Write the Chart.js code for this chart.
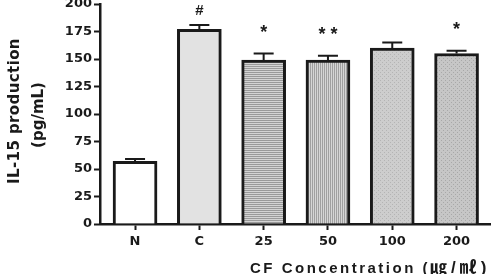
<!DOCTYPE html>
<html>
<head>
<meta charset="utf-8">
<script src="https://cdn.jsdelivr.net/npm/chart.js@4"></script>
<style>
  html, body { margin: 0; padding: 0; background: #fff; }
  #wrap { width: 494px; height: 274px; position: relative; }
</style>
</head>
<body>
<div id="wrap"><canvas id="il15Chart"></canvas></div>
<script>
// ── data ──
var groups = ['N', 'C', '25', '50', '100', '200'];
var il15Values = [57, 177, 149, 149, 160, 155];
var il15Errors = [2, 4, 6, 4, 5, 2.5];
var sigMarks = ['', '#', '*', '**', '', '*'];

var INK = '#1a1a1a';

// ── fill patterns ──
function makePattern(kind) {
    var c = document.createElement('canvas');
    c.width = 4; c.height = 4;
    var g = c.getContext('2d');
    if (kind === 'hlines') {
        g.fillStyle = '#d4d4d4'; g.fillRect(0, 0, 4, 4);
        g.fillStyle = '#9a9a9a'; g.fillRect(0, 0, 4, 1); g.fillRect(0, 2, 4, 1);
    } else if (kind === 'vlines') {
        g.fillStyle = '#d6d6d6'; g.fillRect(0, 0, 4, 4);
        g.fillStyle = '#a0a0a0'; g.fillRect(0, 0, 1, 4); g.fillRect(2, 0, 1, 4);
    } else if (kind === 'dots') {
        g.fillStyle = '#cdcdcd'; g.fillRect(0, 0, 4, 4);
        g.fillStyle = '#b4b4b4'; g.fillRect(0, 0, 1, 1); g.fillRect(2, 2, 1, 1);
    } else {
        g.fillStyle = '#c6c6c6'; g.fillRect(0, 0, 4, 4);
        g.fillStyle = '#a8a8a8'; g.fillRect(1, 0, 1, 1); g.fillRect(3, 2, 1, 1);
    }
    return g.createPattern(c, 'repeat');
}

var fills = ['#ffffff', '#e2e2e2', makePattern('hlines'), makePattern('vlines'), makePattern('dots'), makePattern('dots2')];

function isGroupTick(v) { return Math.abs(v - Math.round(v)) < 1e-6 && groups[Math.round(v)] !== undefined; }

// ── error bars, significance marks, axis titles ──
var extrasPlugin = {
    id: 'extras',
    afterDatasetsDraw: function(chart) {
        var ctx = chart.ctx, xs = chart.scales.x, ys = chart.scales.y;
        ctx.save();
        ctx.strokeStyle = INK;
        ctx.lineWidth = 2;
        il15Values.forEach(function(v, i) {
            var cx = xs.getPixelForValue(i);
            var y0 = ys.getPixelForValue(v);
            var y1 = ys.getPixelForValue(v + il15Errors[i]);
            ctx.beginPath();
            ctx.moveTo(cx, y0); ctx.lineTo(cx, y1);
            ctx.moveTo(cx - 10, y1); ctx.lineTo(cx + 10, y1);
            ctx.stroke();
            var m = sigMarks[i];
            if (!m) return;
            ctx.fillStyle = INK;
            ctx.textAlign = 'center';
            ctx.textBaseline = 'alphabetic';
            if (m === '#') {
                ctx.font = 'bold 15px "Liberation Sans", Arial';
                ctx.letterSpacing = '0px';
                ctx.fillText(m, cx, y1 - 10);
            } else {
                ctx.font = 'bold 18px "Liberation Sans", Arial';
                ctx.letterSpacing = m.length > 1 ? '5px' : '0px';
                var off = m.length > 1 ? 2.5 : 0;
                ctx.fillText(m, cx + off, y1 - 16);
            }
        });
        ctx.restore();
    },
    afterDraw: function(chart) {
        var ctx = chart.ctx;
        var mid = (chart.chartArea.top + chart.chartArea.bottom) / 2;
        ctx.save();
        ctx.fillStyle = INK;
        ctx.font = 'bold 15px "DejaVu Sans"';
        ctx.letterSpacing = '0.4px';
        ctx.textAlign = 'center';
        ctx.textBaseline = 'alphabetic';
        ctx.translate(19, mid - 3);
        ctx.rotate(-Math.PI / 2);
        ctx.fillText('IL-15 production', 0, 0);
        ctx.letterSpacing = '0px';
        ctx.fillText('(pg/mL)', -4, 24);
        ctx.restore();

        ctx.save();
        ctx.fillStyle = INK;
        ctx.textAlign = 'left';
        ctx.textBaseline = 'alphabetic';
        ctx.font = 'bold 15px "Liberation Sans", Arial';
        ctx.letterSpacing = '2.5px';
        var label = 'CF Concentration (';
        ctx.fillText(label, 250, 273);
        var w = ctx.measureText(label).width;
        ctx.font = 'bold 17px "Liberation Sans", "Noto Sans CJK KR"';
        ctx.letterSpacing = '4px';
        ctx.fillText('㎍/㎖)', 250 + w, 273);
        ctx.restore();
    }
};

new Chart(document.getElementById('il15Chart').getContext('2d'), {
    type: 'bar',
    data: {
        datasets: [{
            data: il15Values.map(function(v, i) { return { x: i, y: v }; }),
            backgroundColor: fills,
            borderColor: INK,
            borderWidth: 3,
            borderSkipped: 'bottom',
            barThickness: 44
        }]
    },
    options: {
        responsive: true, maintainAspectRatio: false, animation: false,
        layout: { padding: { top: 4, right: 4, left: 0, bottom: 0 } },
        plugins: { legend: { display: false }, tooltip: { enabled: false } },
        scales: {
            x: {
                type: 'linear', min: -0.545, max: 5.52, offset: false,
                afterFit: function(s) { s.height = 50; s.paddingLeft = 0; s.paddingRight = 0; },
                border: { display: true, color: INK, width: 2.5 },
                grid: {
                    display: true, offset: false, drawOnChartArea: false, drawTicks: true, tickLength: 6, tickWidth: 2,
                    tickColor: function(c) { return c.tick && isGroupTick(c.tick.value) ? INK : 'rgba(0,0,0,0)'; }
                },
                ticks: {
                    stepSize: 1, includeBounds: false,
                    color: INK, padding: 4, maxRotation: 0, autoSkip: false,
                    font: { family: '"DejaVu Sans"', weight: 'bold', size: 13 },
                    callback: function(v) { return isGroupTick(v) ? groups[Math.round(v)] : ''; }
                }
            },
            y: {
                min: 0, max: 200,
                afterFit: function(s) { s.width = 100; s.paddingTop = 0; s.paddingBottom = 0; },
                border: { display: true, color: INK, width: 2.5 },
                grid: { display: true, drawOnChartArea: false, drawTicks: true, tickLength: 6, tickColor: INK, tickWidth: 2 },
                ticks: {
                    stepSize: 25, color: INK, padding: 2,
                    font: { family: '"DejaVu Sans"', weight: 'bold', size: 13 }
                }
            }
        }
    },
    plugins: [extrasPlugin]
});
</script>
</body>
</html>
